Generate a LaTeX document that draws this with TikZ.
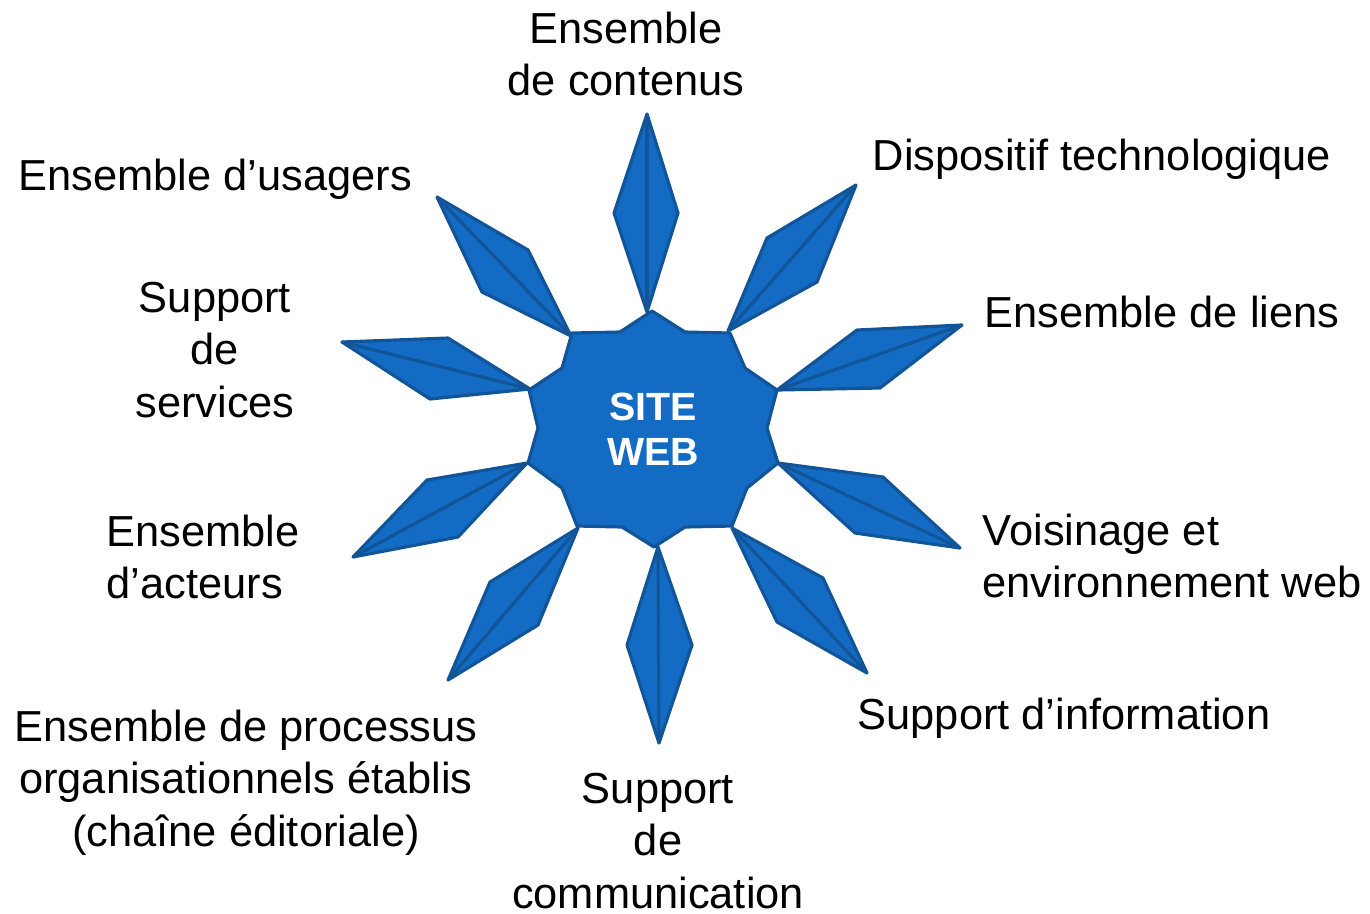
\documentclass[tikz,border=0pt]{standalone}
\usepackage{fontspec}
\setmainfont{Liberation Sans}
\definecolor{webfill}{RGB}{19,107,196}
\definecolor{webline}{RGB}{17,85,152}

\begin{document}
\begin{tikzpicture}[x = 0.1mm, y = -0.1mm,
		ray/.style = {fill = webfill, draw = webline, line width = 0.9pt, line join = round},
		lbl/.style = {inner sep = 0, font = \fontsize{12.35}{15}\selectfont}]
		\useasboundingbox (0, 0) rectangle (1370, 913);
		%%%%%%%%%%%%%
		% rayons
		\draw [ray] (647, 312) -- (614, 213) -- (647, 114) -- (678, 213) -- cycle; \draw [ray] (647, 312) -- (647, 114);
		\draw [ray] (728, 331) -- (767, 238) -- (856, 185) -- (817, 282) -- cycle; \draw [ray] (728, 331) -- (856, 185);
		\draw [ray] (777, 390) -- (857, 330) -- (962, 325) -- (880, 388) -- cycle; \draw [ray] (777, 390) -- (962, 325);
		\draw [ray] (778, 463) -- (883, 477) -- (960, 548) -- (855, 533) -- cycle; \draw [ray] (778, 463) -- (960, 548);
		\draw [ray] (732, 528) -- (823, 578) -- (867, 673) -- (777, 622) -- cycle; \draw [ray] (732, 528) -- (867, 673);
		\draw [ray] (658, 547) -- (692, 645) -- (659, 743) -- (627, 645) -- cycle; \draw [ray] (658, 547) -- (659, 743);
		\draw [ray] (578, 528) -- (538, 625) -- (448, 680) -- (490, 582) -- cycle; \draw [ray] (578, 528) -- (448, 680);
		\draw [ray] (527, 463) -- (458, 537) -- (353, 557) -- (427, 480) -- cycle; \draw [ray] (527, 463) -- (353, 557);
		\draw [ray] (530, 389) -- (430, 399) -- (342, 342) -- (448, 338) -- cycle; \draw [ray] (530, 389) -- (342, 342);
		\draw [ray] (571, 336) -- (482, 292) -- (437, 197) -- (528, 250) -- cycle; \draw [ray] (571, 336) -- (437, 197);
		%%%%%%%%%%%%%
		% etoile centrale
		\draw [ray] (652, 311) -- (685, 332) -- (730, 333) -- (745, 368) -- (777, 390)
			-- (767, 428) -- (778, 463) -- (747, 488) -- (732, 526) -- (685, 527)
			-- (654, 547) -- (622, 527) -- (577, 526) -- (562, 488) -- (528, 463)
			-- (538, 428) -- (529, 390) -- (562, 368) -- (572, 333) -- (620, 332) -- cycle;
		\node (site) at (653, 429) [inner sep = 0, align = center, text = white,
			font = \bfseries\fontsize{11.2}{12.8}\selectfont] {SITE\\WEB};
		%%%%%%%%%%%%%
		% etiquettes
		\node (contenus) at (626, 11) [lbl, anchor = north, align = center] {Ensemble\\de contenus};
		\node (dispositif) at (872, 170) [lbl, anchor = base west] {Dispositif technologique};
		\node (liens) at (984, 327) [lbl, anchor = base west] {Ensemble de liens};
		\node (voisinage) at (982, 513) [lbl, anchor = north west, align = left] {Voisinage et\\environnement web};
		\node (information) at (857, 729) [lbl, anchor = base west] {Support d’information};
		\node (communication) at (658, 772) [lbl, anchor = north, align = center] {Support\\de\\communication};
		\node (processus) at (246, 709) [lbl, anchor = north, align = center] {Ensemble de processus\\organisationnels établis\\(chaîne éditoriale)};
		\node (acteurs) at (106, 514) [lbl, anchor = north west, align = left] {Ensemble\\d’acteurs};
		\node (services) at (215, 281) [lbl, anchor = north, align = center] {Support\\de\\services};
		\node (usagers) at (18, 190) [lbl, anchor = base west] {Ensemble d’usagers};
\end{tikzpicture}
\end{document}
